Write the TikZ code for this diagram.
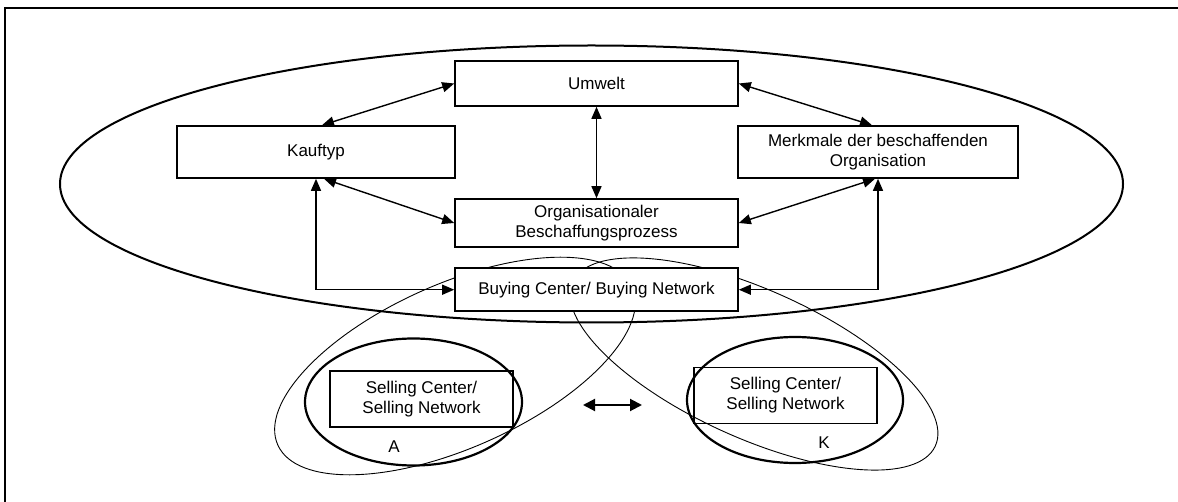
\documentclass[tikz,border=0pt]{standalone}
\usepackage{fontspec}
\setmainfont{Liberation Sans}
\usetikzlibrary{arrows.meta}
\begin{document}
\begin{tikzpicture}[x=1pt,y=1pt,
  txt/.style={font=\fontsize{17}{20}\selectfont,text=black},
  box/.style={txt,draw,line width=1.6pt,fill=white,inner sep=0pt,align=center},
  sellbox/.style={txt,draw,line width=1.6pt,inner sep=0pt,align=center,
    minimum width=183pt,minimum height=56pt},
  link/.style={line width=1.4pt,
    {Triangle[length=12pt,width=10pt]}-{Triangle[length=12pt,width=10pt]}},
  exchange/.style={line width=2pt,
    {Triangle[length=12pt,width=12pt]}-{Triangle[length=12pt,width=12pt]}},
  group/.style={line width=2.2pt},
  scope line/.style={line width=0.9pt}]
\useasboundingbox (0,0) rectangle (1178,501);

% frame
\draw[line width=2pt] (5,-5) -- (5,493) -- (1185,493);

% organisation boundary
\draw[line width=2pt] (591.5,317) ellipse [x radius=531.5, y radius=138.5];

% overlapping buyer/seller scopes
\draw[scope line, rotate around={24:(455,135)}] (455,135) ellipse [x radius=194, y radius=82];
\draw[scope line, rotate around={-24.3:(754,137)}] (754,137) ellipse [x radius=199, y radius=74];

% upper boxes
\node[box, minimum width=283pt, minimum height=45pt] (umwelt) at (596.5,417.5) {Umwelt};
\node[box, minimum width=278pt, minimum height=52pt] (kauf) at (316,349) {Kauftyp};
\node[box, minimum width=280pt, minimum height=52pt] (merk) at (878,349)
  {Merkmale der beschaffenden\\Organisation};
\node[box, minimum width=283pt, minimum height=48pt] (org) at (596.5,278)
  {Organisationaler\\Beschaffungsprozess};
\node[box, minimum width=283pt, minimum height=43pt] (buy) at (596.5,211.3)
  {Buying Center/ Buying Network};

% relations
\draw[link] ([xshift=6pt]kauf.north) -- (umwelt.west);
\draw[link] ([xshift=8pt]kauf.south) -- (org.west);
\draw[link] (umwelt.south) -- (org.north);
\draw[link] (umwelt.east) -- ([xshift=-6pt]merk.north);
\draw[link] ([xshift=-3pt]merk.south) -- (org.east);
\draw[link] (buy.west) -| (kauf.south);
\draw[link] (buy.east) -| (merk.south);

% selling side
\node[sellbox] (sella) at (421.5,102) {Selling Center/\\Selling Network};
\node[sellbox] (sellk) at (785.5,105.5) {Selling Center/\\Selling Network};
\draw[group] (413.5,99) ellipse [x radius=108.5, y radius=63.5];
\draw[group] (795,101) ellipse [x radius=108, y radius=63];
\node[txt] (la) at (394,54) {A};
\node[txt] (lk) at (824,58) {K};

\coordinate (exl) at (583,96);
\coordinate (exr) at (642,96);
\draw[exchange] (exl) -- (exr);
\end{tikzpicture}
\end{document}
